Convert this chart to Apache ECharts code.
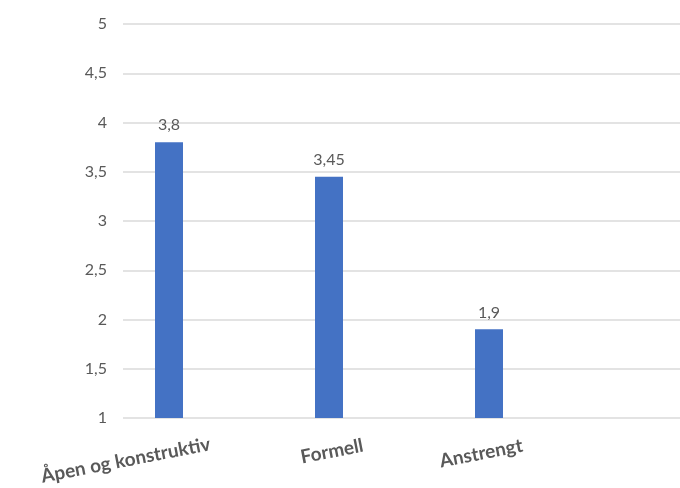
<!DOCTYPE html>
<html>
<head>
<meta charset="utf-8">
<script src="https://cdn.jsdelivr.net/npm/echarts@6/dist/echarts.min.js"></script>
<style>
  html, body { margin: 0; padding: 0; background: #ffffff; }
  #chart { width: 680px; height: 488px; }
</style>
</head>
<body>
<div id="chart"></div>
<script>
// Categories and mean scores
const categories = ['Åpen og konstruktiv', 'Formell', 'Anstrengt'];
const scores = [3.8, 3.45, 1.9];
const yMin = 1;
const yMax = 5;
const yStep = 0.5;

const textColor = '#595959';
const fontFamily = 'Lato, "Open Sans", sans-serif';
const comma = v => String(v).replace('.', ',');

// per-label nudges so the slanted category names sit where they read best
const labelPads = [[0, 88, 0, 0], [0, 0, 0, 6], [0, 16, 0, 0]];
const categoryItems = categories.map((name, i) => ({
  value: name,
  textStyle: { align: 'center', padding: labelPads[i] }
}));

const chart = echarts.init(document.getElementById('chart'));
chart.setOption({
  animation: false,
  backgroundColor: '#ffffff',
  grid: [
    // grid carrying the value scale and horizontal gridlines
    { left: 123, right: 0, top: 24, bottom: 70, outerBoundsMode: 'none' },
    // grid carrying the bars and category labels
    { left: 89, width: 480, top: 24, bottom: 70, outerBoundsMode: 'none' }
  ],
  xAxis: [
    { type: 'category', gridIndex: 0, data: categories, show: false },
    {
      type: 'category', gridIndex: 1, data: categoryItems,
      axisLine: { show: false }, axisTick: { show: false },
      axisLabel: {
        rotate: 11, align: 'center', margin: 34,
        color: textColor, fontFamily, fontSize: 19, fontWeight: 'bold',
        interval: 0
      }
    }
  ],
  yAxis: [
    {
      type: 'value', gridIndex: 0, min: yMin, max: yMax, interval: yStep,
      axisLine: { show: false }, axisTick: { show: false },
      axisLabel: { color: textColor, fontFamily, fontSize: 16, margin: 16, formatter: comma },
      splitLine: { lineStyle: { color: '#e3e3e3', width: 2 } }
    },
    { type: 'value', gridIndex: 1, min: yMin, max: yMax, interval: yStep, show: false, splitLine: { show: false } }
  ],
  series: [{
    type: 'bar',
    xAxisIndex: 1, yAxisIndex: 1,
    data: scores,
    barWidth: 28,
    itemStyle: { color: '#4472c4' },
    label: {
      show: true, position: 'top', distance: 9,
      color: textColor, fontFamily, fontSize: 16,
      formatter: p => comma(p.value)
    }
  }]
});
</script>
</body>
</html>
